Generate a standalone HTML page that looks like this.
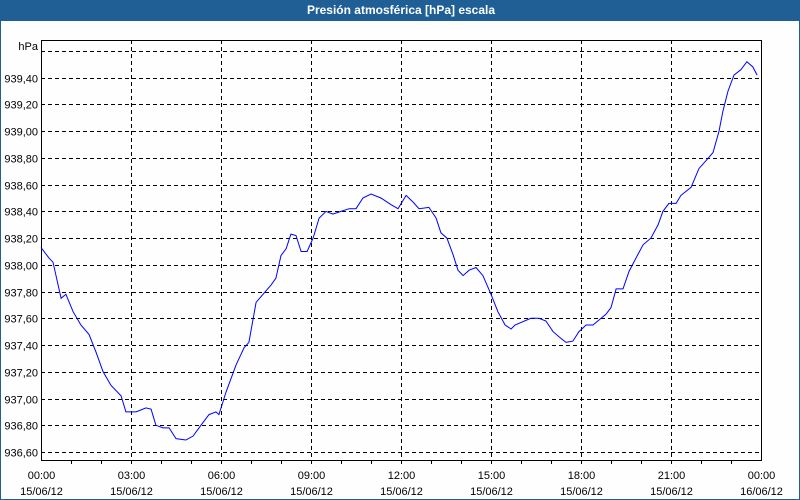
<!DOCTYPE html>
<html><head><meta charset="utf-8"><style>
html,body{margin:0;padding:0;background:#fdfefd;}
#wrap{position:relative;width:800px;height:500px;background:#fdfefd;box-sizing:border-box;border-left:1px solid #1f5f96;border-right:1px solid #1f5f96;border-bottom:1px solid #1f5f96;overflow:hidden;font-family:"Liberation Sans","DejaVu Sans",sans-serif;}
#title{position:absolute;left:0;top:0;width:800px;height:21px;background:#1f5f96;color:#fff;font-weight:bold;font-size:12px;line-height:21px;text-align:center;}
svg{position:absolute;left:0;top:0;}
svg text{font-family:"Liberation Sans","DejaVu Sans",sans-serif;font-size:11px;fill:#000;}
</style></head><body>
<div id="wrap">
<div id="title">Presión atmosférica [hPa] escala</div>
<svg id="chart" width="800" height="500"></svg>
</div>
<script>
const hours=[0,0.27,0.4,0.67,0.83,1.07,1.33,1.6,1.83,2.07,2.33,2.67,2.83,3.17,3.5,3.67,3.83,4.07,4.27,4.5,4.83,5.07,5.33,5.6,5.83,5.93,6.17,6.5,6.77,6.93,7.17,7.4,7.67,7.83,8,8.17,8.33,8.5,8.67,8.87,9.07,9.27,9.5,9.73,10,10.27,10.5,10.73,11,11.33,11.67,11.9,12.17,12.4,12.6,12.93,13.17,13.33,13.53,13.73,13.9,14.07,14.27,14.5,14.73,15,15.23,15.47,15.67,15.8,16.33,16.6,16.83,17.07,17.33,17.5,17.73,17.93,18.17,18.4,18.67,18.83,19,19.17,19.4,19.6,19.83,20.07,20.33,20.57,20.73,20.93,21.17,21.33,21.67,21.93,22.17,22.4,22.6,22.73,22.9,23.1,23.33,23.53,23.73,23.87];
const pressure=[938.13,938.05,938.02,937.75,937.78,937.65,937.55,937.48,937.35,937.2,937.1,937.02,936.9,936.9,936.93,936.92,936.8,936.78,936.78,936.7,936.69,936.72,936.8,936.88,936.9,936.88,937.05,937.25,937.38,937.42,937.72,937.78,937.85,937.9,938.07,938.12,938.23,938.22,938.1,938.1,938.2,938.35,938.4,938.38,938.4,938.42,938.42,938.5,938.53,938.5,938.45,938.42,938.52,938.47,938.42,938.43,938.35,938.24,938.2,938.08,937.96,937.92,937.96,937.98,937.92,937.78,937.65,937.55,937.52,937.55,937.6,937.6,937.58,937.5,937.45,937.42,937.43,937.5,937.55,937.55,937.6,937.63,937.68,937.82,937.82,937.95,938.05,938.15,938.2,938.3,938.4,938.46,938.46,938.52,938.58,938.72,938.78,938.84,939.0,939.15,939.3,939.42,939.46,939.52,939.48,939.42];
const yTicks=[936.6,936.8,937.0,937.2,937.4,937.6,937.8,938.0,938.2,938.4,938.6,938.8,939.0,939.2,939.4,939.6];
const xTickHours=[0,3,6,9,12,15,18,21,24];
const xTickTimes=["00:00","03:00","06:00","09:00","12:00","15:00","18:00","21:00","00:00"];
const xTickDates=["15/06/12","15/06/12","15/06/12","15/06/12","15/06/12","15/06/12","15/06/12","15/06/12","16/06/12"];

const L=40,R=760,T=40,B=460;
const yMin=936.6,yMax=939.6,yPixMin=452,yPixMax=51;
const xs=h=>L+(h/24)*(R-L);
const ys=v=>yPixMin-(v-yMin)/(yMax-yMin)*(yPixMin-yPixMax);
const svg=document.getElementById('chart');
const NS='http://www.w3.org/2000/svg';
function mk(tag,attrs){const e=document.createElementNS(NS,tag);for(const k in attrs)e.setAttribute(k,attrs[k]);svg.appendChild(e);return e;}

yTicks.forEach((v,i)=>{
  const y=Math.round(ys(v))+0.5;
  const g=mk('line',{x1:L,x2:R,y1:y,y2:y,stroke:'#000','stroke-dasharray':'4,3','stroke-width':1});
  
  
  if(i<yTicks.length-1){
    const t=mk('text',{x:L-3,y:y+4,'text-anchor':'end'});
    t.textContent=v.toFixed(2).replace('.',',');
    
    
  }
});
const unit=mk('text',{x:L-3,y:50,'text-anchor':'end'});
unit.textContent='hPa';



for(let h=1;h<24;h++){
  const x=Math.round(xs(h))+0.5;
  const t=mk('line',{x1:x,x2:x,y1:B,y2:B+4,stroke:'#000'});
  
  
}
xTickHours.forEach((h,i)=>{
  const x=Math.round(xs(h))+0.5;
  if(i>0&&i<xTickHours.length-1){
    const g=mk('line',{x1:x,x2:x,y1:T,y2:B,stroke:'#000','stroke-dasharray':'4,3'});
    
    
  }
  const t1=mk('text',{x:x,y:479,'text-anchor':'middle'});
  t1.textContent=xTickTimes[i];
  
  
  const t2=mk('text',{x:x,y:495,'text-anchor':'middle'});
  t2.textContent=xTickDates[i];
  
  
});
const frame=mk('rect',{x:L+0.5,y:T+0.5,width:R-L,height:B-T,fill:'none',stroke:'#000'});


const pts=hours.map((h,i)=>xs(h).toFixed(1)+','+ys(pressure[i]).toFixed(1)).join(' ');
const line=mk('polyline',{points:pts,fill:'none',stroke:'#0000ff','stroke-width':1});


</script>
</body></html>
